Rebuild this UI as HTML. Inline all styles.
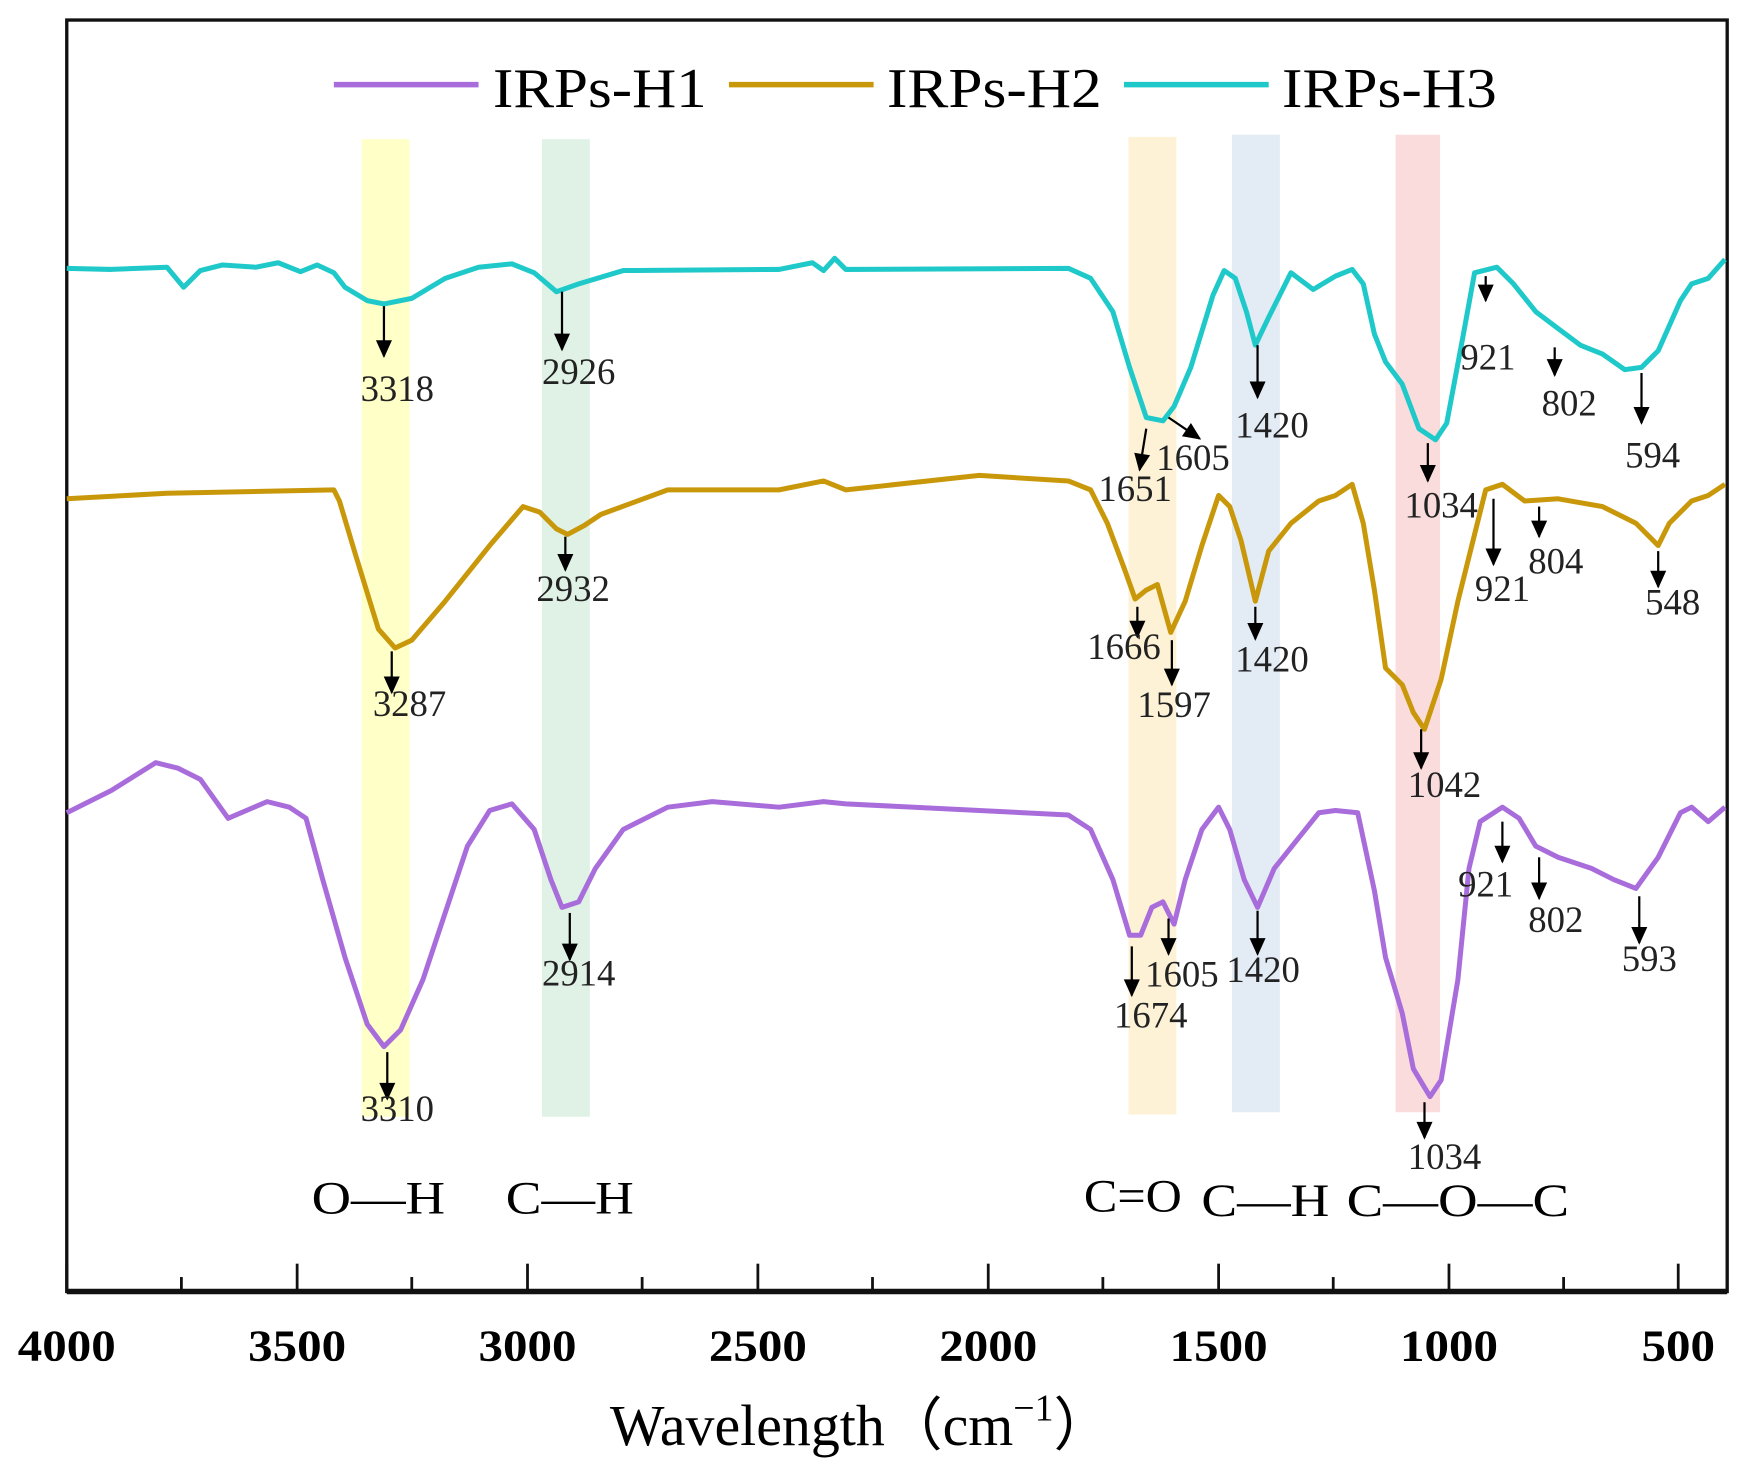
<!DOCTYPE html>
<html><head><meta charset="utf-8"><style>
html,body{margin:0;padding:0;background:#fff;}
svg{display:block;}
text{font-family:"Liberation Serif",serif;}
</style></head><body>
<svg width="1745" height="1483" viewBox="0 0 1568 1332" preserveAspectRatio="none" xmlns="http://www.w3.org/2000/svg">
<defs>
<marker id="ah" viewBox="0 0 10 10" refX="9" refY="5" markerWidth="9" markerHeight="8" orient="auto" markerUnits="strokeWidth">
<path d="M0,0.5 L10,5 L0,9.5 Z" fill="#000"/></marker>
</defs>
<rect width="1568" height="1332" fill="#fff"/>
<rect x="325" y="125" width="43" height="878" fill="#ffffc8"/>
<rect x="487" y="125" width="43" height="878" fill="#dff2e5"/>
<rect x="1014" y="123" width="43" height="878" fill="#fdf1d6"/>
<rect x="1107" y="121" width="43" height="878" fill="#e3ebf5"/>
<rect x="1254" y="121" width="40" height="878" fill="#fbdcdc"/>
<rect x="60" y="18" width="1492" height="1142" fill="none" stroke="#111" stroke-width="3"/>
<line x1="60" y1="1160" x2="1552" y2="1160" stroke="#111" stroke-width="5"/>
<g stroke="#111" stroke-width="2.5">
<line x1="60" y1="1160" x2="60" y2="1135"/>
<line x1="163" y1="1160" x2="163" y2="1147"/>
<line x1="267" y1="1160" x2="267" y2="1135"/>
<line x1="370" y1="1160" x2="370" y2="1147"/>
<line x1="474" y1="1160" x2="474" y2="1135"/>
<line x1="577" y1="1160" x2="577" y2="1147"/>
<line x1="681" y1="1160" x2="681" y2="1135"/>
<line x1="784" y1="1160" x2="784" y2="1147"/>
<line x1="888" y1="1160" x2="888" y2="1135"/>
<line x1="991" y1="1160" x2="991" y2="1147"/>
<line x1="1095" y1="1160" x2="1095" y2="1135"/>
<line x1="1198" y1="1160" x2="1198" y2="1147"/>
<line x1="1302" y1="1160" x2="1302" y2="1135"/>
<line x1="1405" y1="1160" x2="1405" y2="1147"/>
<line x1="1508" y1="1160" x2="1508" y2="1135"/>
</g>
<g font-size="40" font-weight="bold" text-anchor="middle" fill="#000">
<text x="60" y="1222" textLength="88" lengthAdjust="spacingAndGlyphs">4000</text><text x="267" y="1222" textLength="88" lengthAdjust="spacingAndGlyphs">3500</text><text x="474" y="1222" textLength="88" lengthAdjust="spacingAndGlyphs">3000</text>
<text x="681" y="1222" textLength="88" lengthAdjust="spacingAndGlyphs">2500</text><text x="888" y="1222" textLength="88" lengthAdjust="spacingAndGlyphs">2000</text><text x="1095" y="1222" textLength="88" lengthAdjust="spacingAndGlyphs">1500</text>
<text x="1302" y="1222" textLength="88" lengthAdjust="spacingAndGlyphs">1000</text><text x="1508" y="1222" textLength="66" lengthAdjust="spacingAndGlyphs">500</text>
</g>
<text x="548" y="1298" font-size="52" fill="#000">Wavelength（cm<tspan font-size="34" dy="-22">−1</tspan><tspan dy="22">）</tspan></text>
<g stroke-width="5" fill="none">
<line x1="300" y1="76" x2="430" y2="76" stroke="#a96ddb"/>
<line x1="655" y1="76" x2="785" y2="76" stroke="#c9980a"/>
<line x1="1010" y1="76" x2="1140" y2="76" stroke="#1fc9c9"/>
</g>
<g font-size="50" fill="#000">
<text x="443" y="96" textLength="192" lengthAdjust="spacingAndGlyphs">IRPs-H1</text><text x="797" y="96" textLength="193" lengthAdjust="spacingAndGlyphs">IRPs-H2</text><text x="1152" y="96" textLength="193" lengthAdjust="spacingAndGlyphs">IRPs-H3</text>
</g>
<g fill="none" stroke-width="4.5" stroke-linejoin="round">
<polyline stroke="#1fc9c9" points="60,241 100,242 150,240 165,258 180,243 200,238 230,240 250,236 270,244 285,238 300,245 310,258 330,270 345,273 370,268 400,250 430,240 460,237 480,245 500,262 520,255 560,243 700,242 730,236 740,243 750,232 760,242 960,241 980,250 1000,280 1015,330 1030,375 1045,378 1055,365 1070,330 1090,265 1100,243 1110,250 1120,280 1128,310 1140,285 1160,245 1180,260 1200,248 1215,242 1225,255 1235,300 1245,325 1260,345 1275,385 1290,395 1300,380 1315,300 1325,245 1345,240 1360,255 1380,280 1400,295 1420,310 1440,318 1460,332 1475,330 1490,315 1510,270 1520,255 1535,250 1550,233"/>
<polyline stroke="#c9980a" points="60,448 150,443 300,440 305,450 320,500 340,565 355,582 370,575 400,540 440,490 470,455 485,460 500,475 510,480 525,472 540,462 600,440 700,440 740,432 760,440 880,427 960,432 980,440 995,470 1010,510 1020,538 1030,530 1040,525 1052,568 1065,540 1080,490 1095,445 1105,455 1115,485 1128,540 1140,495 1160,470 1185,450 1200,445 1215,435 1225,470 1235,530 1245,600 1260,615 1270,640 1280,655 1295,610 1310,540 1325,480 1335,440 1350,435 1370,450 1400,448 1440,455 1470,470 1490,490 1500,470 1520,450 1535,445 1550,435"/>
<polyline stroke="#a96ddb" points="60,730 100,710 140,685 160,690 180,700 205,735 240,720 260,725 275,735 290,790 310,860 330,920 345,940 360,925 380,880 400,820 420,760 440,728 460,722 480,745 495,790 505,815 520,810 535,780 560,745 600,725 640,720 700,725 740,720 760,722 960,732 980,745 1000,790 1015,840 1025,840 1035,815 1045,810 1055,830 1065,790 1080,745 1095,725 1105,745 1118,790 1130,815 1145,780 1165,755 1185,730 1200,728 1220,730 1235,800 1245,860 1260,910 1270,960 1285,985 1295,970 1310,880 1320,780 1330,738 1350,725 1365,735 1380,760 1400,770 1430,780 1450,790 1470,798 1490,770 1510,730 1520,725 1535,738 1550,725"/>
</g>
<g stroke="#000" stroke-width="2" marker-end="url(#ah)">
<line x1="345" y1="275" x2="345" y2="320"/><line x1="505" y1="262" x2="505" y2="314"/>
<line x1="1030" y1="385" x2="1024" y2="422"/><line x1="1050" y1="375" x2="1078" y2="394"/>
<line x1="1130" y1="310" x2="1130" y2="357"/><line x1="1283" y1="398" x2="1283" y2="432"/>
<line x1="1335" y1="248" x2="1335" y2="270"/><line x1="1397" y1="312" x2="1397" y2="337"/>
<line x1="1475" y1="335" x2="1475" y2="380"/>
<line x1="352" y1="585" x2="352" y2="622"/><line x1="508" y1="482" x2="508" y2="512"/>
<line x1="1022" y1="545" x2="1022" y2="572"/><line x1="1053" y1="575" x2="1053" y2="615"/>
<line x1="1128" y1="545" x2="1128" y2="574"/><line x1="1277" y1="655" x2="1277" y2="690"/>
<line x1="1342" y1="448" x2="1342" y2="507"/><line x1="1383" y1="455" x2="1383" y2="482"/>
<line x1="1490" y1="495" x2="1490" y2="527"/>
<line x1="348" y1="945" x2="348" y2="987"/><line x1="512" y1="820" x2="512" y2="862"/>
<line x1="1017" y1="850" x2="1017" y2="894"/><line x1="1050" y1="825" x2="1050" y2="857"/>
<line x1="1130" y1="818" x2="1130" y2="857"/><line x1="1280" y1="990" x2="1280" y2="1022"/>
<line x1="1350" y1="738" x2="1350" y2="774"/><line x1="1383" y1="770" x2="1383" y2="807"/>
<line x1="1473" y1="805" x2="1473" y2="847"/>
</g>
<g font-size="33" fill="#222" text-anchor="middle">
<text x="357" y="360">3318</text><text x="520" y="345">2926</text><text x="1020" y="450">1651</text>
<text x="1072" y="422">1605</text><text x="1143" y="393">1420</text><text x="1295" y="465">1034</text>
<text x="1337" y="332">921</text><text x="1410" y="373">802</text><text x="1485" y="420">594</text>
<text x="368" y="643">3287</text><text x="515" y="540">2932</text><text x="1010" y="592">1666</text>
<text x="1055" y="644">1597</text><text x="1143" y="603">1420</text><text x="1298" y="716">1042</text>
<text x="1350" y="540">921</text><text x="1398" y="515">804</text><text x="1503" y="552">548</text>
<text x="357" y="1007">3310</text><text x="520" y="885">2914</text><text x="1034" y="923">1674</text>
<text x="1062" y="886">1605</text><text x="1135" y="882">1420</text><text x="1298" y="1050">1034</text>
<text x="1335" y="805">921</text><text x="1398" y="837">802</text><text x="1482" y="872">593</text>
</g>
<g font-size="42" fill="#000" text-anchor="middle">
<text x="340" y="1090" textLength="120" lengthAdjust="spacingAndGlyphs">O—H</text><text x="512" y="1090" textLength="115" lengthAdjust="spacingAndGlyphs">C—H</text><text x="1018" y="1088" textLength="88" lengthAdjust="spacingAndGlyphs">C=O</text>
<text x="1137" y="1092" textLength="115" lengthAdjust="spacingAndGlyphs">C—H</text><text x="1310" y="1092" textLength="200" lengthAdjust="spacingAndGlyphs">C—O—C</text>
</g>
</svg>
</body></html>
